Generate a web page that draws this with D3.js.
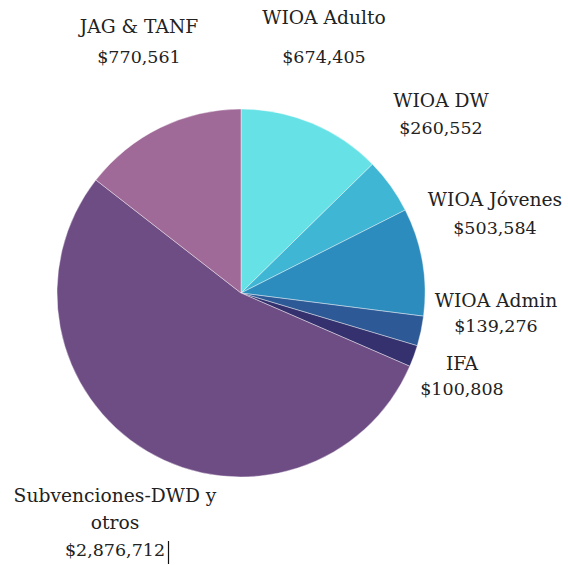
<!DOCTYPE html>
<html>
<head>
<meta charset="utf-8">
<script src="https://cdn.jsdelivr.net/npm/d3@7"></script>
<style>
  body { margin: 0; background: #fff; }
  text { font-family: "DejaVu Serif", serif; fill: #222; }
</style>
</head>
<body>
<div id="chart-area"></div>
<script>
/*
*    pie chart - fondos
*/

const categories = ["WIOA Adulto", "WIOA DW", "WIOA Jóvenes", "WIOA Admin", "IFA", "Subvenciones-DWD y otros", "JAG & TANF"];
const values = [674405, 260552, 503584, 139276, 100808, 2876712, 770561];
const labelLines = [
    ["WIOA Adulto"],
    ["WIOA DW"],
    ["WIOA Jóvenes"],
    ["WIOA Admin"],
    ["IFA"],
    ["Subvenciones-DWD y", "otros"],
    ["JAG & TANF"]
];

// colores y posiciones de las etiquetas
const colors = ["#66e2e6", "#3fb6d4", "#2c8cbe", "#2d5a96", "#34316e", "#6e4c84", "#a06a98"];
const labelPos = [
    {x: 324, y: 24, gap: 39},
    {x: 441, y: 107, gap: 27},
    {x: 495, y: 206, gap: 28},
    {x: 496, y: 307, gap: 25},
    {x: 462, y: 370, gap: 25},
    {x: 115, y: 502, gap: 27},
    {x: 139, y: 33, gap: 30}
];

const width = 568;
const height = 565;
const radius = 184;

const svg = d3.select("#chart-area")
    .append("svg")
    .attr("width", width)
    .attr("height", height);

const g = svg.append("g")
    .attr("transform", "translate(241, 293)");

const pie = d3.pie()
    .sort(null)
    .value(d => d);

const arc = d3.arc()
    .innerRadius(0)
    .outerRadius(radius);

g.selectAll("path")
    .data(pie(values))
    .enter()
    .append("path")
        .attr("d", arc)
        .attr("fill", (d, i) => colors[i])
        .attr("stroke", "#ffffff")
        .attr("stroke-width", 0.4);

const fmt = d3.format("$,");

const labels = svg.selectAll(".label")
    .data(categories)
    .enter()
    .append("text")
        .attr("class", "label")
        .attr("text-anchor", "middle");

labels.each(function(d, i) {
    const t = d3.select(this);
    const p = labelPos[i];
    const lines = labelLines[i].concat([fmt(values[i])]);
    lines.forEach((line, j) => {
        t.append("tspan")
            .attr("x", p.x)
            .attr("y", p.y + j * p.gap)
            .attr("font-size", j === lines.length - 1 ? "17.5px" : "18.7px")
            .text(line);
    });
});

// cursor de texto tras el ultimo valor
svg.append("line")
    .attr("x1", 168.5)
    .attr("x2", 168.5)
    .attr("y1", 541)
    .attr("y2", 564)
    .attr("stroke", "#111")
    .attr("stroke-width", 1.2);
</script>
</body>
</html>
